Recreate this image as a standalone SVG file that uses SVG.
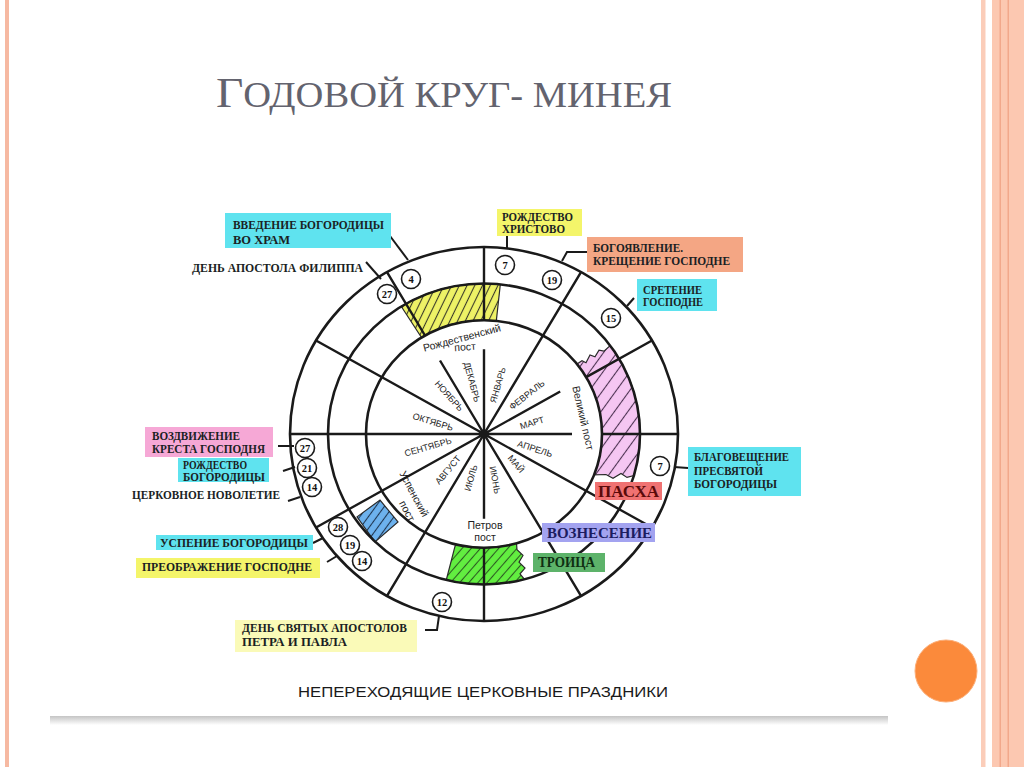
<svg xmlns="http://www.w3.org/2000/svg" width="1024" height="767" viewBox="0 0 1024 767">
<defs>
<style>
.lbl{font-family:"Liberation Serif","DejaVu Serif",serif;font-weight:bold;font-size:12.5px;fill:#1b1f24}
.big{font-family:"Liberation Serif","DejaVu Serif",serif;font-weight:bold}
.ring{fill:none;stroke:#1a1a1a;stroke-width:2.6}
.sp{fill:none;stroke:#1a1a1a;stroke-width:2.4}
.patch{stroke:#2a2a2a;stroke-width:1.2}
.num circle{fill:#fff;stroke:#1a1a1a;stroke-width:1.6}
.num text{font-family:"Liberation Serif","DejaVu Serif",serif;font-weight:bold;font-size:10.5px;fill:#111;text-anchor:middle}
.mon{font-family:"Liberation Sans","DejaVu Sans",sans-serif;font-size:9px;fill:#1e1e1e;text-anchor:middle}
.fast{font-family:"Liberation Sans","DejaVu Sans",sans-serif;font-size:10.5px;fill:#1e1e1e;text-anchor:middle}
.lead{fill:none;stroke:#1a1a1a;stroke-width:2}
.cy{fill:#5fe3ef}
.ye{fill:#f4f56a}
</style>
<pattern id="hY" patternUnits="userSpaceOnUse" width="7" height="7" patternTransform="rotate(25)"><rect width="7" height="7" fill="#eef266"/><line x1="3.5" y1="0" x2="3.5" y2="7" stroke="#3a3a2a" stroke-width="1.1"/></pattern>
<pattern id="hP" patternUnits="userSpaceOnUse" width="11" height="11" patternTransform="rotate(35)"><rect width="11" height="11" fill="#f5c6f2"/><line x1="5.5" y1="0" x2="5.5" y2="11" stroke="#4a3050" stroke-width="1.1"/></pattern>
<pattern id="hG" patternUnits="userSpaceOnUse" width="7" height="7" patternTransform="rotate(40)"><rect width="7" height="7" fill="#62ee40"/><line x1="3.5" y1="0" x2="3.5" y2="7" stroke="#2c5a22" stroke-width="1.1"/></pattern>
<pattern id="hB" patternUnits="userSpaceOnUse" width="7" height="7" patternTransform="rotate(35)"><rect width="7" height="7" fill="#6db2ee"/><line x1="3.5" y1="0" x2="3.5" y2="7" stroke="#1f3550" stroke-width="1.1"/></pattern>
<linearGradient id="shadow" x1="0" y1="0" x2="0" y2="1"><stop offset="0" stop-color="#c4c4c4"/><stop offset="1" stop-color="#ffffff"/></linearGradient>
</defs>

<rect width="1024" height="767" fill="#ffffff"/>

<g id="slide-frame">
<rect x="5" y="0" width="4" height="767" fill="#f6b9a2"/>
<rect x="981" y="0" width="4.5" height="767" fill="#fbcdb9"/>
<rect x="992" y="0" width="32" height="767" fill="#fcc8b1"/>
<rect x="999.5" y="0" width="1.5" height="767" fill="#f2a88b"/>
<rect x="1007.5" y="0" width="1.5" height="767" fill="#f2a88b"/>
<circle cx="946" cy="671" r="31" fill="#fb8a3b" stroke="#fcae78" stroke-width="1"/>
<rect x="50" y="716" width="838" height="9" fill="url(#shadow)"/>
</g>

<g id="title">
<text x="216" y="107" font-family="Liberation Serif, DejaVu Serif, serif" font-size="43" fill="#63636e" textLength="456" lengthAdjust="spacingAndGlyphs">Г<tspan font-size="35" style="text-transform:uppercase">одовой круг- минея</tspan></text>
</g>

<g id="wheel" transform="translate(484,434) scale(1,0.964)">
<path class="patch" fill="url(#hY)" d="M12.3 -117.4 L16.3 -155.1 A156 156 0 0 0 -82.7 -132.3 L-62.5 -100.1 A118 118 0 0 1 12.3 -117.4 Z"/>
<path class="patch" fill="url(#hP)" d="M93 -72.6 L98 -76 L102 -74 L106 -82 L111 -80 L115 -87 L120 -86 L126.2 -91.7 A156 156 0 0 1 150 43 L143 45 L137 41 L129 46 L122 42 L110.2 42.3 A118 118 0 0 0 93 -72.6 Z"/>
<path class="patch" fill="url(#hG)" d="M-28.5 114.5 L-37.7 151.4 A156 156 0 0 0 40.4 150.7 L36 145 L41 139 L35 133 L39 126 L33 120 L32.5 113.4 A118 118 0 0 1 -28.5 114.5 Z"/>
<path class="patch" fill="url(#hB)" d="M-127 86 L-104 68.5 L-86 91.3 L-109 112 Z"/>
<circle class="ring" r="194"/>
<circle class="ring" r="156"/>
<circle class="ring" r="118"/>
<path class="sp" d="M0 0L97 -168 M0 0L-168 -97 M0 0L-194 0 M0 0L168 97 M0 0L97 168 M0 0L-97 168 M0 0L-168 97 M0 0L0 -88 M0 0L-44 -76.2 M0 0L76.2 -44 M0 0L88 0 M0 0L0 88 M0 -118L0 -194 M-59 -102.2L-97 -168 M102.2 -59L168 -97 M118 0L194 0 M0 118L0 194"/>
</g>

<g id="months">
<text class="mon" transform="translate(498,385) rotate(-74)" dy="3">ЯНВАРЬ</text>
<text class="mon" transform="translate(472,382) rotate(75)" dy="3">ДЕКАБРЬ</text>
<text class="mon" transform="translate(449,396) rotate(48)" dy="3">НОЯБРЬ</text>
<text class="mon" transform="translate(433,422) rotate(17)" dy="3">ОКТЯБРЬ</text>
<text class="mon" transform="translate(428,447) rotate(-16)" dy="3">СЕНТЯБРЬ</text>
<text class="mon" transform="translate(448,470) rotate(-50)" dy="3">АВГУСТ</text>
<text class="mon" transform="translate(471,478) rotate(-74)" dy="3">ИЮЛЬ</text>
<text class="mon" transform="translate(495,480) rotate(80)" dy="3">ИЮНЬ</text>
<text class="mon" transform="translate(516,464) rotate(50)" dy="3">МАЙ</text>
<text class="mon" transform="translate(535,449) rotate(18)" dy="3">АПРЕЛЬ</text>
<text class="mon" transform="translate(532,423) rotate(-17)" dy="3">МАРТ</text>
<text class="mon" transform="translate(527,395) rotate(-38)" dy="3">ФЕВРАЛЬ</text>
</g>

<g id="fasts">
<text class="fast" transform="translate(462,338) rotate(-15)" dy="3.5">Рождественский</text>
<text class="fast" transform="translate(465,347) rotate(-4)" dy="3.5">пост</text>
<text class="fast" transform="translate(583,418) rotate(77)" dy="3.5">Великий пост</text>
<text class="fast" x="485" y="529">Петров</text>
<text class="fast" x="485" y="541">пост</text>
<text class="fast" transform="translate(414,494) rotate(62)" dy="3.5">Успенский</text>
<text class="fast" transform="translate(407,511) rotate(62)" dy="3.5">пост</text>
</g>

<g id="connectors">
<path class="lead" d="M387 232 L408 260"/>
<path class="lead" d="M366 262 L381 279"/>
<path class="lead" d="M507 236 L507 248"/>
<path class="lead" d="M587 252 L567 252 L562 261"/>
<path class="lead" d="M634 298 L627 306"/>
<path class="lead" d="M688 468 L674 467"/>
<path class="lead" d="M278 446 L294 446"/>
<path class="lead" d="M283 471 L295 467"/>
<path class="lead" d="M288 501 L300 497"/>
<path class="lead" d="M313 543 L323 538"/>
<path class="lead" d="M327 562 L337 556"/>
<path class="lead" d="M425 630 L437 630 L439 616"/>
</g>

<g id="dates" class="num">
<g><circle cx="411" cy="279" r="9.5"/><text x="411" y="282.5">4</text></g>
<g><circle cx="505" cy="265" r="9.5"/><text x="505" y="268.5">7</text></g>
<g><circle cx="552" cy="280" r="9.5"/><text x="552" y="283.5">19</text></g>
<g><circle cx="387" cy="294" r="9.5"/><text x="387" y="297.5">27</text></g>
<g><circle cx="611" cy="318" r="9.5"/><text x="611" y="321.5">15</text></g>
<g><circle cx="660" cy="466" r="9.5"/><text x="660" y="469.5">7</text></g>
<g><circle cx="305" cy="448" r="9.5"/><text x="305" y="451.5">27</text></g>
<g><circle cx="307" cy="468" r="9.5"/><text x="307" y="471.5">21</text></g>
<g><circle cx="312" cy="487" r="9.5"/><text x="312" y="490.5">14</text></g>
<g><circle cx="338" cy="527" r="9.5"/><text x="338" y="530.5">28</text></g>
<g><circle cx="350" cy="545" r="9.5"/><text x="350" y="548.5">19</text></g>
<g><circle cx="362" cy="561" r="9.5"/><text x="362" y="564.5">14</text></g>
<g><circle cx="442" cy="602" r="9.5"/><text x="442" y="605.5">12</text></g>
</g>

<g id="vvedenie">
<rect class="cy" x="225" y="213" width="166" height="35"/>
<text class="lbl" x="233" y="229" textLength="151" lengthAdjust="spacingAndGlyphs">ВВЕДЕНИЕ  БОГОРОДИЦЫ</text>
<text class="lbl" x="233" y="244" textLength="57" lengthAdjust="spacingAndGlyphs">ВО  ХРАМ</text>
</g>
<g id="filipp">
<text class="lbl" x="192" y="272" textLength="171" lengthAdjust="spacingAndGlyphs">ДЕНЬ  АПОСТОЛА  ФИЛИППА</text>
</g>
<g id="rozhdestvo">
<rect class="ye" x="497" y="209" width="85" height="27"/>
<text class="lbl" x="502" y="221" textLength="71" lengthAdjust="spacingAndGlyphs">РОЖДЕСТВО</text>
<text class="lbl" x="502" y="233" textLength="63" lengthAdjust="spacingAndGlyphs">ХРИСТОВО</text>
</g>
<g id="bogoyavlenie">
<rect x="587" y="237" width="156" height="35" fill="#f4a684"/>
<text class="lbl" x="593" y="252" textLength="90" lengthAdjust="spacingAndGlyphs">БОГОЯВЛЕНИЕ.</text>
<text class="lbl" x="593" y="265" textLength="137" lengthAdjust="spacingAndGlyphs">КРЕЩЕНИЕ  ГОСПОДНЕ</text>
</g>
<g id="sretenie">
<rect class="cy" x="637" y="279" width="80" height="32"/>
<text class="lbl" x="643" y="294" textLength="59" lengthAdjust="spacingAndGlyphs">СРЕТЕНИЕ</text>
<text class="lbl" x="643" y="306" textLength="60" lengthAdjust="spacingAndGlyphs">ГОСПОДНЕ</text>
</g>
<g id="blagoveshchenie">
<rect class="cy" x="688" y="447" width="113" height="49"/>
<text class="lbl" x="694" y="461" textLength="95" lengthAdjust="spacingAndGlyphs">БЛАГОВЕЩЕНИЕ</text>
<text class="lbl" x="694" y="475" textLength="69" lengthAdjust="spacingAndGlyphs">ПРЕСВЯТОЙ</text>
<text class="lbl" x="694" y="488" textLength="83" lengthAdjust="spacingAndGlyphs">БОГОРОДИЦЫ</text>
</g>
<g id="pascha">
<rect x="595" y="482" width="67" height="18" fill="#f07272"/>
<text class="big" x="598" y="497" font-size="16" fill="#5a0a0a" textLength="61" lengthAdjust="spacingAndGlyphs">ПАСХА</text>
</g>
<g id="voznesenie">
<rect x="542" y="523" width="113" height="19" fill="#a3a3f0"/>
<text class="big" x="547" y="538" font-size="14" fill="#1c1c60" textLength="105" lengthAdjust="spacingAndGlyphs">ВОЗНЕСЕНИЕ</text>
</g>
<g id="troica">
<rect x="533" y="553" width="72" height="19" fill="#5db36a"/>
<text class="big" x="538" y="567" font-size="14" fill="#0f2f12" textLength="57" lengthAdjust="spacingAndGlyphs">ТРОИЦА</text>
</g>
<g id="vozdvizhenie">
<rect x="145" y="427" width="128" height="30" fill="#f6a8d6"/>
<text class="lbl" x="152" y="440" textLength="88" lengthAdjust="spacingAndGlyphs">ВОЗДВИЖЕНИЕ</text>
<text class="lbl" x="152" y="453" textLength="113" lengthAdjust="spacingAndGlyphs">КРЕСТА  ГОСПОДНЯ</text>
</g>
<g id="rozhdestvo-bogorodicy">
<rect class="cy" x="178" y="458" width="91" height="24"/>
<text class="lbl" x="183" y="469" textLength="64" lengthAdjust="spacingAndGlyphs">РОЖДЕСТВО</text>
<text class="lbl" x="183" y="481" textLength="82" lengthAdjust="spacingAndGlyphs">БОГОРОДИЦЫ</text>
</g>
<g id="novoletie">
<text class="lbl" x="132" y="499" textLength="148" lengthAdjust="spacingAndGlyphs">ЦЕРКОВНОЕ  НОВОЛЕТИЕ</text>
</g>
<g id="uspenie">
<rect class="cy" x="156" y="535" width="157" height="15"/>
<text class="lbl" x="160" y="547" textLength="148" lengthAdjust="spacingAndGlyphs">УСПЕНИЕ  БОГОРОДИЦЫ</text>
</g>
<g id="preobrazhenie">
<rect class="ye" x="136" y="558" width="184" height="20"/>
<text class="lbl" x="142" y="571" textLength="170" lengthAdjust="spacingAndGlyphs">ПРЕОБРАЖЕНИЕ  ГОСПОДНЕ</text>
</g>
<g id="petr-pavel">
<rect x="235" y="620" width="182" height="32" fill="#fafab8"/>
<text class="lbl" x="242" y="632" textLength="165" lengthAdjust="spacingAndGlyphs">ДЕНЬ  СВЯТЫХ  АПОСТОЛОВ</text>
<text class="lbl" x="242" y="646" textLength="105" lengthAdjust="spacingAndGlyphs">ПЕТРА  И  ПАВЛА</text>
</g>

<g id="caption">
<text x="298" y="697" font-family="Liberation Sans, DejaVu Sans, sans-serif" font-size="15" fill="#1a1a1a" textLength="370" lengthAdjust="spacingAndGlyphs">НЕПЕРЕХОДЯЩИЕ ЦЕРКОВНЫЕ ПРАЗДНИКИ</text>
</g>
</svg>
